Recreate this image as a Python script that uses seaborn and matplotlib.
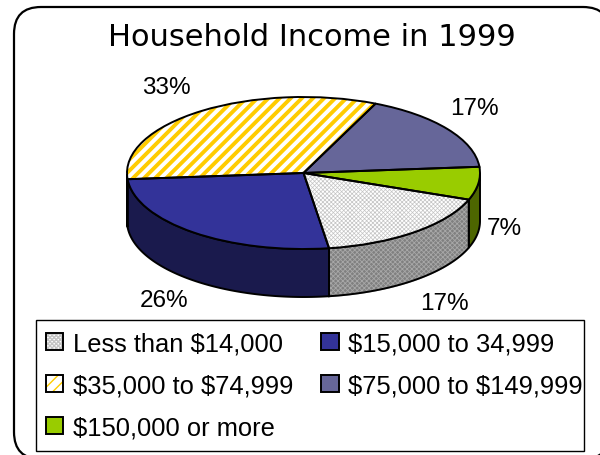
import numpy as np
import seaborn as sns
import matplotlib.pyplot as plt
from matplotlib.legend_handler import HandlerTuple
from matplotlib.patches import FancyBboxPatch, Patch, Polygon, Rectangle

categories = ['Less than $14,000', '$15,000 to 34,999', '$35,000 to $74,999',
              '$75,000 to $149,999', '$150,000 or more']
shares = [17, 26, 33, 17, 7]
top_colors = ['#ffffff', '#333399', '#ffffff', '#666699', '#99cc00']
side_colors = ['#808080', '#1a1a4d', '#806600', '#33334d', '#4d6600']
hatches = ['xxxxxxxx', None, '///', None, None]
hatch_colors = ['#c4c4c4', None, '#ffcc00', None, None]
label_text = ['33%', '17%', '7%', '26%', '17%']

start_angle = -20.5
depth = 48 / 76  # wall height in pie radii

sns.set_theme(style='white', rc={'text.color': 'black', 'text.parse_math': False})
plt.rcParams['font.family'] = ['Liberation Sans', 'DejaVu Sans']

W, H = 600, 456
fig = plt.figure(figsize=(W / 100, H / 100), dpi=100)

# frame and title live on a pixel sized background axes
bg = fig.add_axes([0, 0, 1, 1])
bg.set_xlim(0, W)
bg.set_ylim(H, 0)
bg.axis('off')
bg.add_patch(FancyBboxPatch((14, 8), 596, 452, boxstyle='round,pad=0,rounding_size=27',
                            fc='white', ec='black', lw=1.6))
bg.text(312, 37, 'Household Income in 1999', ha='center', va='center', fontsize=22,
        family='DejaVu Sans')

label_x = [166, 474, 504, 164, 444]
label_y = [88, 109, 229, 301, 304]
for x, y, s in zip(label_x, label_y, label_text):
    bg.text(x, y, s, ha='center', va='center', fontsize=17.5)

# squashed pie: x -1..1 spans 127..480 px, y -1..1 spans 98..250 px
ax = fig.add_axes([127 / W, 1 - 250 / H - depth * 76 / H, 353 / W, (152 + depth * 76) / H])
ax.patch.set_alpha(0)

# side walls, only the front half of the ellipse shows
edges = start_angle - np.cumsum([0] + shares) * 3.6
for i in range(len(shares)):
    a0, a1 = edges[i + 1], edges[i]
    t = np.radians(np.linspace(a0, a1, 120))
    t = t[np.sin(t) <= 0]
    if len(t) < 2:
        continue
    xs, ys = np.cos(t), np.sin(t)
    pts = np.r_[np.c_[xs, ys], np.c_[xs[::-1], ys[::-1] - depth]]
    wall = Polygon(pts, closed=True, fc=side_colors[i], ec='black', lw=1.4, zorder=1)
    if i == 0:
        wall.set_hatch('xxxxxxx')
        wall.set_edgecolor('#a8a8a8')
        wall.set_hatch_linewidth(0.6)
        ax.add_patch(wall)
        ax.add_patch(Polygon(pts, closed=True, fill=False, ec='black', lw=1.4, zorder=1.5))
    else:
        ax.add_patch(wall)

# fill pass with hatching, then outline pass on top
wedges, _ = ax.pie(shares, startangle=start_angle, counterclock=False, colors=top_colors,
                   wedgeprops=dict(lw=0, zorder=2))
for w, h, c in zip(wedges, hatches, hatch_colors):
    if h:
        w.set_hatch(h)
        w.set_edgecolor(c)
        w.set_hatch_linewidth(2.8 if h == '///' else 0.5)
outline, _ = ax.pie(shares, startangle=start_angle, counterclock=False,
                    wedgeprops=dict(fill=False, ec='black', lw=1.4, zorder=3))
ax.set_aspect('auto')
ax.set_xlim(-1, 1)
ax.set_ylim(-1 - depth, 1)
ax.axis('off')
for p in ax.patches:
    p.set_clip_on(False)

# legend box drawn by hand, the text nearly touches its right side
bg.add_patch(Rectangle((35.5, 321), 548, 131, fc='white', ec='black', lw=1))

# columns fill first so reorder to read across the rows
handles = []
for f, h, c in zip(top_colors, hatches, hatch_colors):
    fill = Patch(facecolor=f, edgecolor=c if h else f, hatch=h, lw=0)
    edge = Patch(fill=False, edgecolor='black', lw=1.4)
    handles.append((fill, edge))
order = [0, 2, 4, 1, 3]
leg = bg.legend([handles[i] for i in order], [categories[i] for i in order], ncol=2,
                handler_map={tuple: HandlerTuple(ndivide=1, pad=0)},
                loc='lower left', bbox_to_anchor=(35 / W, 1 - 451 / H),
                bbox_transform=fig.transFigure, fontsize=18.4, frameon=False,
                borderaxespad=0, handlelength=0.68, handleheight=0.65, columnspacing=1.1,
                labelspacing=0.7, handletextpad=0.38, borderpad=0.42)

fig.savefig('out.png', dpi=100)
